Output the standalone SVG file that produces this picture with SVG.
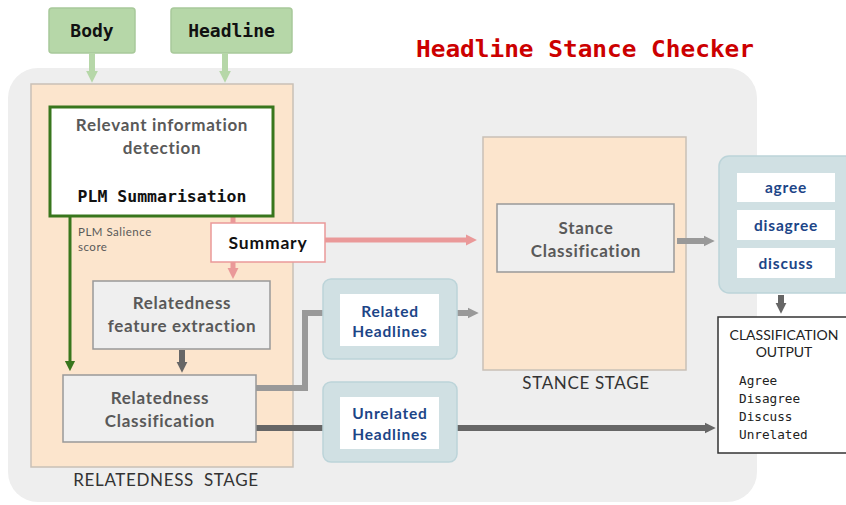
<svg xmlns="http://www.w3.org/2000/svg" width="846" height="505" viewBox="0 0 846 505">
  <style>
    .mono { font-family: "DejaVu Sans Mono", "Liberation Mono", monospace; }
    .sans { font-family: Lato, "Open Sans", "Liberation Sans", sans-serif; letter-spacing: 0.5px; }
    .caps { font-family: Lato, "Open Sans", "Liberation Sans", sans-serif; font-size: 14px; fill: #222222; text-anchor: middle; letter-spacing: 0px; }
    .boxlbl { font-family: Lato, "Open Sans", "Liberation Sans", sans-serif; font-weight: 700; font-size: 17px; fill: #595959; text-anchor: middle; letter-spacing: 0.7px; }
    .bluelbl { font-family: Lato, "Open Sans", "Liberation Sans", sans-serif; font-weight: 700; font-size: 15.5px; fill: #1c4587; text-anchor: middle; letter-spacing: 0.8px; }
    .stage { font-family: Lato, "Open Sans", "Liberation Sans", sans-serif; font-size: 17px; fill: #333333; text-anchor: middle; white-space: pre; letter-spacing: 0.65px; }
    .input { fill: #b6d7a8; stroke: #a8c99a; stroke-width: 1.5; }
    .stagebox { fill: #fce5cd; stroke: #c9c0b6; stroke-width: 1.5; }
    .proc { fill: #efefef; stroke: #999999; stroke-width: 1.5; }
    .teal { fill: #d0e0e3; stroke: #bcd4d9; stroke-width: 1.5; }
    .white { fill: #ffffff; }
    .conn { fill: none; stroke-linejoin: miter; }
  </style>
  <defs>
    <marker id="headLightGreen" viewBox="0 0 10 10" refX="1" refY="5" markerWidth="2" markerHeight="2.2" markerUnits="strokeWidth" orient="auto">
      <path d="M0,0 L10,5 L0,10 z" fill="#b6d7a8"/>
    </marker>
    <marker id="headGreen" viewBox="0 0 10 10" refX="1" refY="5" markerWidth="3.4" markerHeight="4" markerUnits="strokeWidth" orient="auto">
      <path d="M0,0 L10,5 L0,10 z" fill="#38761d"/>
    </marker>
    <marker id="headPink" viewBox="0 0 10 10" refX="1" refY="5" markerWidth="2.2" markerHeight="2.4" markerUnits="strokeWidth" orient="auto">
      <path d="M0,0 L10,5 L0,10 z" fill="#ea9999"/>
    </marker>
    <marker id="headGray" viewBox="0 0 10 10" refX="1" refY="5" markerWidth="1.8" markerHeight="2" markerUnits="strokeWidth" orient="auto">
      <path d="M0,0 L10,5 L0,10 z" fill="#999999"/>
    </marker>
    <marker id="headDark" viewBox="0 0 10 10" refX="1" refY="5" markerWidth="1.8" markerHeight="2" markerUnits="strokeWidth" orient="auto">
      <path d="M0,0 L10,5 L0,10 z" fill="#666666"/>
    </marker>
  </defs>

  <!-- page background -->
  <rect x="0" y="0" width="846" height="505" fill="#ffffff"/>

  <!-- system panel -->
  <rect id="system-panel" x="8" y="68" width="749" height="434" rx="30" fill="#eeeeee"/>

  <!-- title -->
  <text id="title" class="mono" x="416" y="57" font-size="23" font-weight="700" fill="#cc0000" textLength="338" lengthAdjust="spacingAndGlyphs">Headline Stance Checker</text>

  <!-- inputs -->
  <g id="body">
    <rect class="input" x="49" y="8" width="86" height="45" rx="3"/>
    <text class="mono" x="92" y="37" font-size="18" font-weight="700" fill="#111" text-anchor="middle">Body</text>
  </g>
  <g id="headline">
    <rect class="input" x="171" y="8" width="121" height="45" rx="3"/>
    <text class="mono" x="231.5" y="37" font-size="18" font-weight="700" fill="#111" text-anchor="middle">Headline</text>
  </g>

  <!-- stage containers -->
  <g id="relatedness-stage">
    <rect class="stagebox" x="31" y="84" width="262" height="383"/>
    <text class="stage" x="166" y="486">RELATEDNESS  STAGE</text>
  </g>
  <g id="stance-stage">
    <rect class="stagebox" x="483" y="137" width="203" height="233"/>
    <text class="stage" x="586" y="389">STANCE STAGE</text>
  </g>

  <!-- connectors -->
  <g id="connectors">
    <line class="conn" x1="92" y1="53" x2="92" y2="72" stroke="#b6d7a8" stroke-width="6" marker-end="url(#headLightGreen)"/>
    <line class="conn" x1="225" y1="53" x2="225" y2="72" stroke="#b6d7a8" stroke-width="6" marker-end="url(#headLightGreen)"/>
    <line class="conn" x1="70" y1="216" x2="70" y2="362" stroke="#38761d" stroke-width="3" marker-end="url(#headGreen)"/>
    <line class="conn" x1="233" y1="215" x2="233" y2="224" stroke="#ea9999" stroke-width="5"/>
    <line class="conn" x1="233" y1="262" x2="233" y2="269" stroke="#ea9999" stroke-width="5" marker-end="url(#headPink)"/>
    <line class="conn" x1="325" y1="240" x2="467" y2="240" stroke="#ea9999" stroke-width="5" marker-end="url(#headPink)"/>
    <line class="conn" x1="182" y1="350" x2="182" y2="363" stroke="#666666" stroke-width="6" marker-end="url(#headDark)"/>
    <polyline class="conn" points="256,388 305,388 305,313 324,313" stroke="#999999" stroke-width="6"/>
    <line class="conn" x1="457" y1="313" x2="469" y2="313" stroke="#999999" stroke-width="6" marker-end="url(#headGray)"/>
    <line class="conn" x1="256" y1="428" x2="324" y2="428" stroke="#666666" stroke-width="6"/>
    <line class="conn" x1="457" y1="428" x2="706" y2="428" stroke="#666666" stroke-width="6" marker-end="url(#headDark)"/>
    <line class="conn" x1="677" y1="241" x2="705" y2="241" stroke="#999999" stroke-width="6" marker-end="url(#headGray)"/>
    <line class="conn" x1="781" y1="295" x2="781" y2="304" stroke="#666666" stroke-width="6" marker-end="url(#headDark)"/>
  </g>

  <!-- relatedness stage nodes -->
  <g id="relevant-info">
    <rect x="50" y="107" width="223" height="109" fill="#ffffff" stroke="#38761d" stroke-width="3"/>
    <text class="boxlbl" x="162" y="131">Relevant information</text>
    <text class="boxlbl" x="162" y="154">detection</text>
    <text class="mono" x="162" y="202" font-size="16.5" font-weight="700" fill="#111" text-anchor="middle">PLM Summarisation</text>
  </g>
  <g id="salience-label">
    <text class="sans" x="78" y="236" font-size="11.5" fill="#595959">PLM Salience</text>
    <text class="sans" x="78" y="251" font-size="11.5" fill="#595959">score</text>
  </g>
  <g id="summary">
    <rect x="211" y="223" width="114" height="39" fill="#ffffff" stroke="#ea9999" stroke-width="1.5"/>
    <text class="sans" x="268" y="249" font-size="17.5" font-weight="700" fill="#111" text-anchor="middle" style="letter-spacing:0.8px">Summary</text>
  </g>
  <g id="feature-extraction">
    <rect class="proc" x="93" y="281" width="177" height="68"/>
    <text class="boxlbl" x="182" y="309">Relatedness</text>
    <text class="boxlbl" x="182" y="332">feature extraction</text>
  </g>
  <g id="relatedness-classification">
    <rect class="proc" x="63" y="375" width="193" height="67" stroke="#777777"/>
    <text class="boxlbl" x="160" y="404">Relatedness</text>
    <text class="boxlbl" x="160" y="427">Classification</text>
  </g>

  <!-- headline sets -->
  <g id="related-headlines">
    <rect class="teal" x="323" y="279" width="134" height="80" rx="8"/>
    <rect class="white" x="340" y="294" width="99" height="52"/>
    <text class="bluelbl" x="390" y="317">Related</text>
    <text class="bluelbl" x="390" y="337">Headlines</text>
  </g>
  <g id="unrelated-headlines">
    <rect class="teal" x="323" y="382" width="134" height="80" rx="8"/>
    <rect class="white" x="340" y="397" width="99" height="52"/>
    <text class="bluelbl" x="390" y="419">Unrelated</text>
    <text class="bluelbl" x="390" y="440">Headlines</text>
  </g>

  <!-- stance stage node -->
  <g id="stance-classification">
    <rect class="proc" x="497" y="204" width="177" height="68" stroke="#666666"/>
    <text class="boxlbl" x="586" y="234">Stance</text>
    <text class="boxlbl" x="586" y="257">Classification</text>
  </g>

  <!-- stance labels -->
  <g id="stance-labels">
    <rect class="teal" x="719" y="156" width="150" height="137" rx="10"/>
    <rect class="white" x="737" y="173" width="98" height="29"/>
    <rect class="white" x="737" y="210" width="98" height="30"/>
    <rect class="white" x="737" y="248" width="98" height="30"/>
    <text class="bluelbl" x="786" y="193">agree</text>
    <text class="bluelbl" x="786" y="231">disagree</text>
    <text class="bluelbl" x="786" y="269">discuss</text>
  </g>

  <!-- final output -->
  <g id="classification-output">
    <rect x="718" y="317" width="140" height="136" fill="#ffffff" stroke="#333333" stroke-width="1.5"/>
    <text class="caps" x="784" y="340">CLASSIFICATION</text>
    <text class="caps" x="784" y="357">OUTPUT</text>
    <text class="mono" x="739" y="385" font-size="12.7" fill="#222">Agree</text>
    <text class="mono" x="739" y="403" font-size="12.7" fill="#222">Disagree</text>
    <text class="mono" x="739" y="421" font-size="12.7" fill="#222">Discuss</text>
    <text class="mono" x="739" y="439" font-size="12.7" fill="#222">Unrelated</text>
  </g>
</svg>
